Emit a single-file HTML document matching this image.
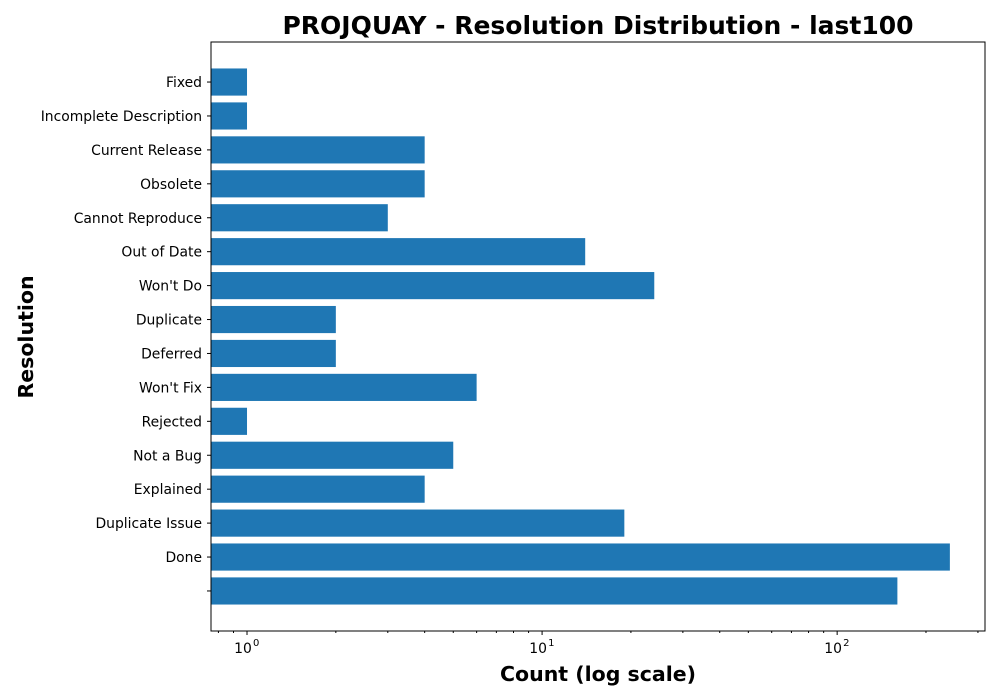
<!DOCTYPE html>
<html><head><meta charset="utf-8"><style>
html,body{margin:0;padding:0;background:#fff;}
svg{display:block;font-family:"DejaVu Sans","Liberation Sans",sans-serif;}
</style></head><body>
<svg id="chart" width="1000" height="700">
<text x="598" y="34" text-anchor="middle" font-size="25" font-weight="bold">PROJQUAY - Resolution Distribution - last100</text>
<text x="598" y="681" text-anchor="middle" font-size="20.5" font-weight="bold">Count (log scale)</text>
<text transform="translate(33,337) rotate(-90)" text-anchor="middle" font-size="20.5" font-weight="bold">Resolution</text>
<g id="bars"></g><g id="axes"></g>
<rect x="211" y="42" width="774" height="589" fill="none" stroke="#000" stroke-width="1"/>
</svg>
<script>
const categories=["Fixed","Incomplete Description","Current Release","Obsolete","Cannot Reproduce","Out of Date","Won't Do","Duplicate","Deferred","Won't Fix","Rejected","Not a Bug","Explained","Duplicate Issue","Done",""];
const counts=[1,1,4,4,3,14,24,2,2,6,1,5,4,19,241,160];
const xTickValues=[1,10,100];
const xTickExps=["0","1","2"];
const NS="http://www.w3.org/2000/svg";
const L=211,R=985,T=42,B=631;
const xMin=Math.log10(0.755),xMax=Math.log10(317);
function xs(v){return L+(Math.log10(v)-xMin)/(xMax-xMin)*(R-L);}
const pad=1.18;
const step=(B-T)/(categories.length-1+2*pad);
function ys(i){return T+(pad+i)*step;}
function mk(t,a,p){const e=document.createElementNS(NS,t);for(const k in a)e.setAttribute(k,a[k]);p.appendChild(e);return e;}
const gb=document.getElementById('bars'),ga=document.getElementById('axes');
categories.forEach((c,i)=>{
 const r=mk('rect',{x:L,y:ys(i)-step*0.4,width:xs(counts[i])-L,height:step*0.8,fill:'#1f77b4'},gb);
 
 
 mk('line',{x1:L-4,x2:L,y1:ys(i),y2:ys(i),stroke:'#000'},ga);
 const t=mk('text',{x:L-9,y:ys(i)+5,'text-anchor':'end','font-size':'13.9'},ga);
 t.textContent=c;
 
 
});
xTickValues.forEach((v,i)=>{
 const x=xs(v);
 mk('line',{x1:x,x2:x,y1:B,y2:B+4,stroke:'#000'},ga);
 const t=mk('text',{x:x-4,y:B+22,'text-anchor':'middle','font-size':'13.9'},ga);
 t.textContent='10';
 
 
 const s=mk('text',{x:x+6,y:B+15,'font-size':'10'},ga);s.textContent=xTickExps[i];
});
for(let d=-1;d<=2;d++)for(let m=2;m<=9;m++){const v=m*Math.pow(10,d);if(v<0.755||v>317)continue;const x=xs(v);mk('line',{x1:x,x2:x,y1:B,y2:B+2,stroke:'#000'},ga);}
</script>
</body></html>
